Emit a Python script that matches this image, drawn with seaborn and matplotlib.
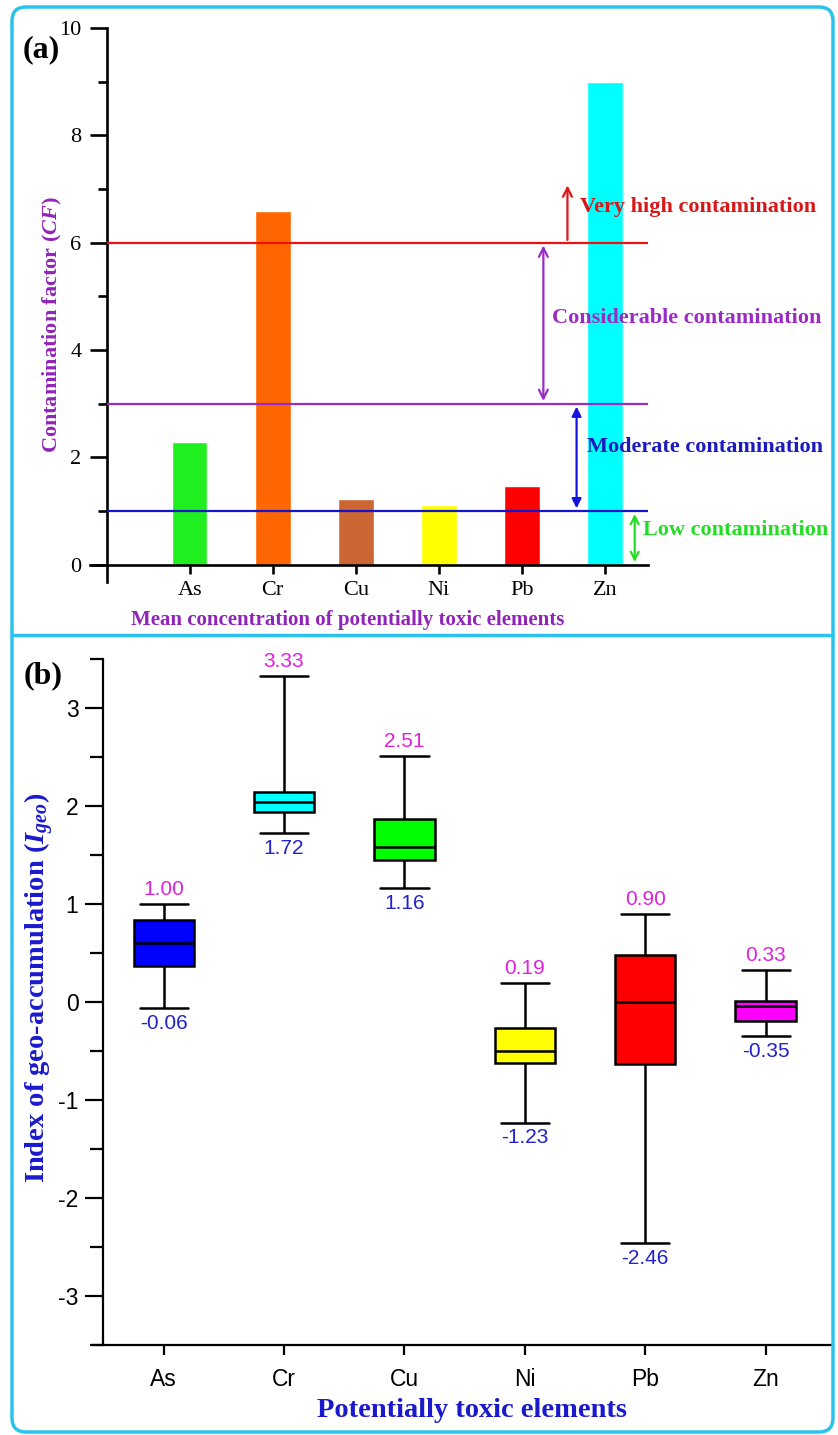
import numpy as np
import pandas as pd
import matplotlib.pyplot as plt
import seaborn as sns
from matplotlib.patches import FancyBboxPatch
from matplotlib.lines import Line2D
from matplotlib.ticker import MultipleLocator

# Panel (a): contamination factor of each element
elements = ['As', 'Cr', 'Cu', 'Ni', 'Pb', 'Zn']
cf_values = [2.29, 6.60, 1.23, 1.11, 1.47, 9.00]
bar_colors = ['#1FEF1F', '#FF6600', '#CC6633', '#FFFF00', '#FF0000', '#00FFFF']

# class limits drawn as horizontal lines
cf_limits = [1, 3, 6]
limit_colors = ['#1414CC', '#9A2BC4', '#EE1111']

# Panel (b): Igeo box statistics
igeo_min = [-0.06, 1.72, 1.16, -1.23, -2.46, -0.35]
igeo_q1 = [0.37, 1.94, 1.45, -0.62, -0.63, -0.19]
igeo_med = [0.60, 2.04, 1.58, -0.50, 0.00, -0.04]
igeo_q3 = [0.84, 2.14, 1.87, -0.27, 0.48, 0.01]
igeo_max = [1.00, 3.33, 2.51, 0.19, 0.90, 0.33]
box_colors = ['#0000FF', '#00FFFF', '#00FF00', '#FFFF00', '#FF0000', '#FF00FF']

sns.set_style('ticks')
plt.rcParams['font.family'] = ['Liberation Serif', 'DejaVu Serif']
plt.rcParams['mathtext.fontset'] = 'custom'
plt.rcParams['mathtext.rm'] = 'Liberation Serif:bold'
plt.rcParams['mathtext.it'] = 'Liberation Serif:italic:bold'
plt.rcParams['mathtext.bf'] = 'Liberation Serif:bold'
plt.rcParams['axes.unicode_minus'] = False
for key in ['text.color', 'xtick.color', 'ytick.color', 'axes.labelcolor', 'axes.edgecolor']:
    plt.rcParams[key] = 'black'

fig = plt.figure(figsize=(8.38, 14.35), dpi=100)

# ---------------- panel (a) ----------------
ax1 = fig.add_axes([90 / 838, 1 - 582 / 1435, 558 / 838, 554 / 1435])
cf_df = pd.DataFrame({'element': elements, 'cf': cf_values})
sns.barplot(data=cf_df, x='element', y='cf', hue='element', palette=bar_colors,
            saturation=1, width=0.43, legend=False, ax=ax1)

for val, col in zip(cf_limits, limit_colors):
    ax1.hlines(val, -1, 5.52, color=col, lw=1.6, zorder=3)

purple = '#9024B8'
ax1.annotate('', xy=(4.55, 7.12), xytext=(4.55, 6.0),
             arrowprops=dict(arrowstyle='->', color='#E01515', lw=1.6, mutation_scale=16))
ax1.annotate('', xy=(4.26, 6.0), xytext=(4.26, 3.0),
             arrowprops=dict(arrowstyle='<->', color='#9A2BC4', lw=1.6, mutation_scale=16))
ax1.annotate('', xy=(4.66, 3.0), xytext=(4.66, 1.0),
             arrowprops=dict(arrowstyle='<|-|>', color='#1414DD', lw=1.6, mutation_scale=14))
ax1.annotate('', xy=(5.36, 1.0), xytext=(5.36, 0.0),
             arrowprops=dict(arrowstyle='<->', color='#22DD22', lw=1.6, mutation_scale=14))

ax1.text(4.70, 6.67, 'Very high contamination', color='#D81818', fontsize=16,
         fontweight='bold', va='center', ha='left')
ax1.text(4.36, 4.60, 'Considerable contamination', color='#9A2BC4', fontsize=16,
         fontweight='bold', va='center', ha='left')
ax1.text(4.78, 2.20, 'Moderate contamination', color='#1A1ABF', fontsize=16,
         fontweight='bold', va='center', ha='left')
ax1.text(5.455, 0.65, 'Low contamination', color='#22DD22', fontsize=16,
         fontweight='bold', va='center', ha='left')

ax1.set_xlim(-1.2, 5.52)
ax1.set_ylim(-0.32, 10)
ax1.spines['left'].set_position(('data', -1))
ax1.spines['bottom'].set_position(('data', 0))
ax1.spines['right'].set_visible(False)
ax1.spines['top'].set_visible(False)
for s in ['left', 'bottom']:
    ax1.spines[s].set_linewidth(1.9)
ax1.yaxis.set_major_locator(MultipleLocator(2))
ax1.yaxis.set_minor_locator(MultipleLocator(1))
ax1.tick_params(axis='y', which='major', length=12, width=1.9, labelsize=16, pad=6)
ax1.tick_params(axis='y', which='minor', length=6.5, width=1.9)
ax1.tick_params(axis='x', length=6.5, width=1.9, labelsize=16, pad=5)

ax1.set_xlabel('Mean concentration of potentially toxic elements', color=purple,
               fontsize=15, fontweight='bold')
ax1.xaxis.set_label_coords(0.462, -0.0686)
ax1.xaxis.label.set_va('center')
ax1.set_ylabel('Contamination factor ($CF$)', color=purple, fontsize=16, fontweight='bold')
ax1.yaxis.set_label_coords(-0.068, 0.464)
ax1.yaxis.label.set_va('center')
fig.text(41 / 838, 1 - 50 / 1435, '(a)', fontsize=23, fontweight='bold', ha='center', va='center')

# ---------------- panel (b) ----------------
ax2 = fig.add_axes([93 / 838, 1 - 1345 / 1435, 740 / 838, 686 / 1435])
rows = []
for i, el in enumerate(elements):
    for v in [igeo_min[i], igeo_q1[i], igeo_med[i], igeo_q3[i], igeo_max[i]]:
        rows.append({'element': el, 'igeo': v})
igeo_df = pd.DataFrame(rows)

sns.boxplot(data=igeo_df, x='element', y='igeo', hue='element', palette=box_colors,
            saturation=1, whis=(0, 100), width=0.5, linewidth=1.8, linecolor='black',
            legend=False, capwidths=0.4, ax=ax2)

for i in range(len(elements)):
    ax2.text(i, igeo_max[i] + 0.05, f'{igeo_max[i]:.2f}', color='#DD22DD', fontsize=15,
             ha='center', va='bottom', family='Liberation Sans')
    ax2.text(i, igeo_min[i] - 0.06, f'{igeo_min[i]:.2f}', color='#2222CC', fontsize=15,
             ha='center', va='top', family='Liberation Sans')

ax2.set_xlim(-0.587, 5.56)
ax2.set_ylim(-3.5, 3.5)
ax2.spines['left'].set_position(('data', -0.5))
ax2.spines['right'].set_visible(False)
ax2.spines['top'].set_visible(False)
for s in ['left', 'bottom']:
    ax2.spines[s].set_linewidth(1.6)
ax2.yaxis.set_major_locator(MultipleLocator(1))
ax2.yaxis.set_minor_locator(MultipleLocator(0.5))
ax2.tick_params(axis='y', which='major', length=13, width=1.6, labelsize=16.5, pad=5,
                labelfontfamily='Liberation Sans')
ax2.tick_params(axis='y', which='minor', length=9.5, width=1.6)
ax2.tick_params(axis='x', length=7.5, width=1.6, labelsize=16.5, pad=9,
                labelfontfamily='Liberation Sans')

blue = '#1A1ACC'
ax2.set_xlabel('Potentially toxic elements', color=blue, fontsize=20.5, fontweight='bold')
ax2.xaxis.set_label_coords(0.512, -0.095)
ax2.xaxis.label.set_va('center')
ax2.set_ylabel('Index of geo-accumulation ($I_{geo}$)', color=blue, fontsize=20.5,
               fontweight='bold')
ax2.yaxis.set_label_coords(-0.073, 0.52)
ax2.yaxis.label.set_va('center')
fig.text(43 / 838, 1 - 676 / 1435, '(b)', fontsize=23, fontweight='bold', ha='center', va='center')

# cyan frame around both panels and the divider
frame = FancyBboxPatch((0.12, 0.03), 8.21, 14.25, boxstyle='round,pad=0,rounding_size=0.14',
                       transform=fig.dpi_scale_trans, fill=False, ec='#2BC3EE', lw=2.5)
fig.patches.append(frame)
fig.lines.append(Line2D([0.12, 8.33], [8.0, 8.0], transform=fig.dpi_scale_trans,
                        color='#2BC3EE', lw=2.5))

fig.savefig('out.png', dpi=100)
